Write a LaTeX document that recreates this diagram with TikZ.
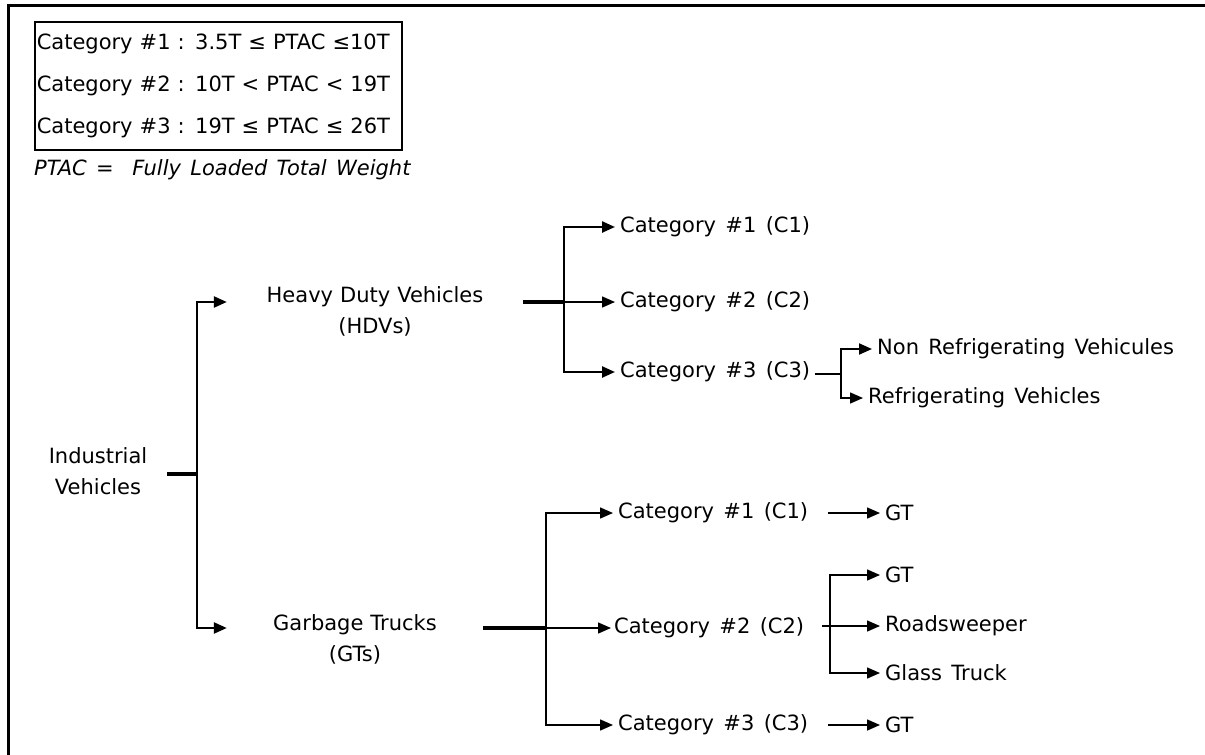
\documentclass[tikz,border=0pt]{standalone}
\usepackage{fontspec}
\setmainfont{DejaVu Sans}[WordSpace=1.4]
\usetikzlibrary{arrows.meta}

\begin{document}
\begin{tikzpicture}[x=1pt, y=-1pt,
  txt/.style={inner sep=0pt, font=\fontsize{21}{25}\selectfont},
  branch/.style={txt, align=center, font=\fontsize{21}{31}\selectfont},
  leaf/.style={txt, anchor=west, inner xsep=5pt},
  link/.style={line width=2.4pt, -{Triangle[length=13pt,width=11pt]}},
  thinlink/.style={line width=1.5pt, -{Triangle[length=13pt,width=11pt]}},
  stem/.style={line width=3.4pt},
  gap/.style={shorten <=15pt}]
  \useasboundingbox (0,0) rectangle (1205,755);
  % ------- frame and legend -------
  \draw[line width=3pt] (8,755) -- (8,5) -- (1205,5);
  \node[draw, line width=1.5pt, anchor=north west, minimum width=367pt, minimum height=128pt,
        inner xsep=2pt, text width=363pt, align=left, font=\fontsize{21}{42}\selectfont]
    (legend) at (34,21)
    {Category \#1 : 3.5T ≤ PTAC ≤10T\\Category \#2 : 10T < PTAC < 19T\\Category \#3 : 19T ≤ PTAC ≤ 26T};
  \node[txt, anchor=west, font=\fontsize{21}{25}\selectfont\itshape] (ptac) at (34,170)
    {PTAC = \ Fully Loaded Total Weight};
  % ------- root -------
  \node[branch, text width=138pt] (iv) at (98,471) {Industrial\\Vehicles};
  \coordinate (jiv) at (197,474);
  \draw[stem] (iv.east |- jiv) -- (jiv);
  \node[branch, text width=296pt] (hdv) at (375,311.5) {Heavy Duty Vehicles\\(HDVs)};
  \node[branch, text width=256pt] (gt) at (355,639) {Garbage Trucks\\(GTs)};
  \coordinate (jhdv) at (564,302);
  \coordinate (jgt) at (546,628);
  \draw[link] (jiv) |- (hdv.west |- jhdv);
  \draw[link] (jiv) |- (gt.west |- jgt);
  % ------- heavy duty vehicles -------
  \draw[stem] (hdv.east |- jhdv) -- (jhdv);
  \node[leaf] (hc1) at (615,227) {Category \#1 (C1)};
  \node[leaf] (hc2) at (615,302) {Category \#2 (C2)};
  \node[leaf] (hc3) at (615,372) {Category \#3 (C3)};
  \draw[link] (jhdv) |- (hc1.west);
  \draw[link, line width=1.5pt] (jhdv) -- (hc2.west);
  \draw[link] (jhdv) |- (hc3.west);
  % refrigerated or not
  \coordinate (jhc3) at (841,374);
  \draw[stem, line width=2.8pt] (hc3.east |- jhc3) -- (jhc3);
  \node[leaf] (nrv) at (872,349) {Non Refrigerating Vehicules};
  \node[leaf] (rv) at (863,398) {Refrigerating Vehicles};
  \draw[link, line width=2pt] (jhc3) |- (nrv.west);
  \draw[link, line width=1.5pt] (jhc3) |- (rv.west);
  % ------- garbage trucks -------
  \draw[stem] (gt.east |- jgt) -- (jgt);
  \node[leaf] (gc1) at (613,513) {Category \#1 (C1)};
  \node[leaf, inner xsep=3pt] (gc2) at (611,628) {Category \#2 (C2)};
  \node[leaf] (gc3) at (613,725) {Category \#3 (C3)};
  \draw[thinlink] (jgt) |- (gc1.west);
  \draw[thinlink] (jgt) -- (gc2.west);
  \draw[thinlink] (jgt) |- (gc3.west);
  % the trucks in each category
  \node[leaf] (gt1) at (880,513) {GT};
  \node[leaf] (gt2) at (880,575) {GT};
  \node[leaf] (rs) at (880,626) {Roadsweeper};
  \node[leaf] (gl) at (880,673) {Glass Truck};
  \node[leaf] (gt3) at (880,725) {GT};
  \coordinate (jgc2) at (830,626);
  \draw[thinlink, gap] (gc1) -- (gt1);
  \draw[line width=1.5pt, gap] (gc2.east |- jgc2) -- (jgc2);
  \draw[thinlink] (jgc2) |- (gt2.west);
  \draw[thinlink] (jgc2) -- (rs.west);
  \draw[thinlink] (jgc2) |- (gl.west);
  \draw[thinlink, gap] (gc3) -- (gt3);
\end{tikzpicture}
\end{document}
